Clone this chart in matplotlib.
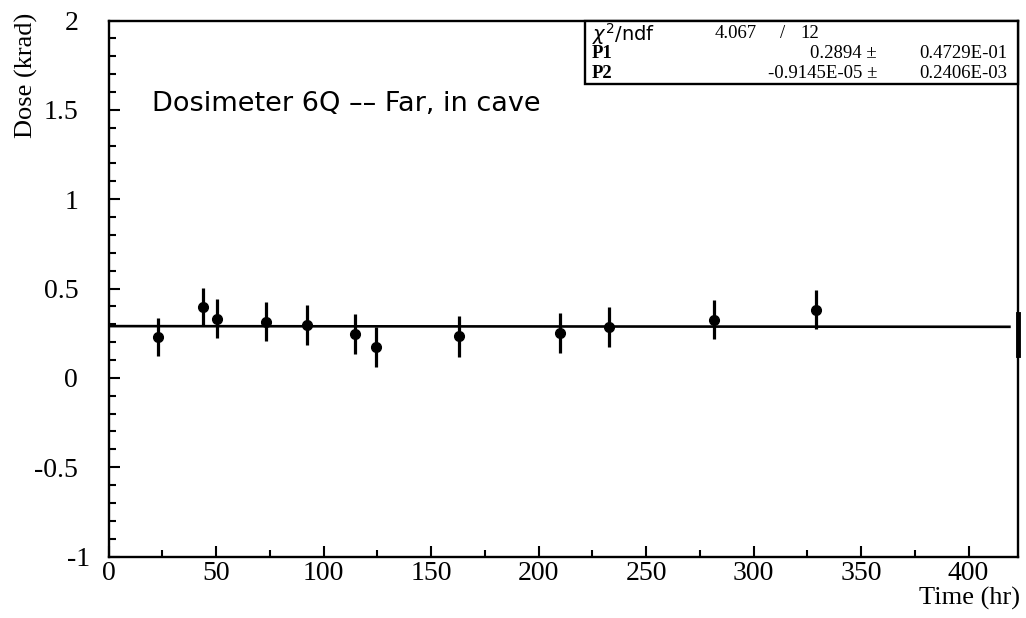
import matplotlib
matplotlib.use("Agg")
import matplotlib.pyplot as plt
import matplotlib.transforms as mtransforms
import numpy as np
from matplotlib.ticker import MultipleLocator
from matplotlib.patches import Rectangle

# Measured dose for dosimeter 6Q versus elapsed time
time_hr = [22.8, 43.7, 50.5, 73.0, 92.1, 114.4, 124.2, 162.9, 210.0, 232.8, 281.5, 329.0]
dose_krad = [0.229, 0.395, 0.332, 0.315, 0.293, 0.246, 0.170, 0.233, 0.252, 0.285, 0.325, 0.382]
dose_err = [0.107, 0.107, 0.109, 0.110, 0.112, 0.110, 0.112, 0.114, 0.112, 0.112, 0.110, 0.107]

# Linear fit result: dose = P1 + P2 * t
p1, p1_err = 0.2894, 0.4729e-01
p2, p2_err = -0.9145e-05, 0.2406e-03
chi2, ndf = 4.067, 12
fit_range = [0.0, 419.0]

x_ticks = [0, 50, 100, 150, 200, 250, 300, 350, 400]
y_ticks = [-1, -0.5, 0, 0.5, 1, 1.5, 2]
y_tick_labels = ["-1", "-0.5", "0", "0.5", "1", "1.5", "2"]

W, H = 1026, 618
fig = plt.figure(figsize=(W / 100, H / 100), dpi=100)
ax = fig.add_axes([108.7 / W, 1 - 556.5 / H, (1018 - 108.7) / W, (556.5 - 20.5) / H])

serif = ["Liberation Serif", "DejaVu Serif"]

ax.errorbar(time_hr, dose_krad, yerr=dose_err, fmt="o", color="black",
            markersize=7, elinewidth=2.3, capsize=0, zorder=3)

tf = np.array(fit_range)
ax.plot(tf, p1 + p2 * tf, color="black", linewidth=1.9, zorder=2)

ax.set_xlim(0, 423)
ax.set_ylim(-1, 2)
ax.set_xticks(x_ticks)
ax.set_xticklabels([str(v) for v in x_ticks], family=serif, fontsize=20)
ax.set_yticks(y_ticks)
ax.set_yticklabels(y_tick_labels, family=serif, fontsize=20)
ax.xaxis.set_minor_locator(MultipleLocator(25))
ax.yaxis.set_minor_locator(MultipleLocator(0.1))
ax.tick_params(which="both", direction="in", top=False, right=False, width=1.5)
ax.tick_params(axis="y", which="major", length=8, pad=22)
ax.tick_params(axis="y", which="minor", length=5)
ax.tick_params(axis="x", which="major", length=8, pad=3)
ax.tick_params(axis="x", which="minor", length=5)
for s in ax.spines.values():
    s.set_linewidth(1.7)

# the bottom y label sits tucked in next to the origin
bottom_label = ax.get_yticklabels()[0]
bottom_label.set_transform(bottom_label.get_transform() +
                           mtransforms.ScaledTranslation(12 / 100, 0, fig.dpi_scale_trans))

# heavier stroke on the right edge near the fitted level
ax.plot([423, 423], [0.13, 0.355], color="black", linewidth=3.5, clip_on=False, zorder=4)

fig.text(26 / W, 1 - 75 / H, "Dose (krad)", rotation=90, ha="center", va="center",
         family=serif, fontsize=19)
fig.text(1020 / W, 1 - 598 / H, "Time (hr)", ha="right", va="center",
         family=serif, fontsize=19)

ax.text(20, 1.53, "Dosimeter 6Q \u2013\u2013 Far, in cave", ha="left", va="center",
        family=["DejaVu Sans"], fontsize=19.5)

# fit statistics box
def fx(px):
    return px / W

def fy(py):
    return 1 - py / H

box_l, box_t, box_r, box_b = 585, 20.5, 1018, 84
fig.add_artist(Rectangle((fx(box_l), fy(box_b)), fx(box_r) - fx(box_l), fy(box_t) - fy(box_b),
                         transform=fig.transFigure, fill=True, facecolor="white",
                         edgecolor="black", linewidth=1.7, zorder=5))

rows_y = [34, 54, 73]
fs = 13.5
fig.text(fx(592), fy(rows_y[0]), r"$\chi^2$/ndf", ha="left", va="center",
         fontsize=14, family=["DejaVu Sans"], zorder=6)
fig.text(fx(715), fy(rows_y[0]), f"{chi2:.3f}", ha="left", va="center",
         fontsize=fs, family=serif, zorder=6)
fig.text(fx(783), fy(rows_y[0]), "/", ha="center", va="center",
         fontsize=fs, family=serif, zorder=6)
fig.text(fx(800), fy(rows_y[0]), f"{ndf}", ha="left", va="center",
         fontsize=fs, family=serif, zorder=6)

fig.text(fx(592), fy(rows_y[1]), "P1", ha="left", va="center",
         fontsize=fs, family=serif, weight="bold", zorder=6)
fig.text(fx(877), fy(rows_y[1]), f"{p1:.4f} \u00b1", ha="right", va="center",
         fontsize=fs, family=serif, zorder=6)
fig.text(fx(1007), fy(rows_y[1]), "0.4729E-01", ha="right", va="center",
         fontsize=fs, family=serif, zorder=6)

fig.text(fx(592), fy(rows_y[2]), "P2", ha="left", va="center",
         fontsize=fs, family=serif, weight="bold", zorder=6)
fig.text(fx(877), fy(rows_y[2]), "-0.9145E-05 \u00b1", ha="right", va="center",
         fontsize=fs, family=serif, zorder=6)
fig.text(fx(1007), fy(rows_y[2]), "0.2406E-03", ha="right", va="center",
         fontsize=fs, family=serif, zorder=6)

fig.savefig("out.png", dpi=100)
